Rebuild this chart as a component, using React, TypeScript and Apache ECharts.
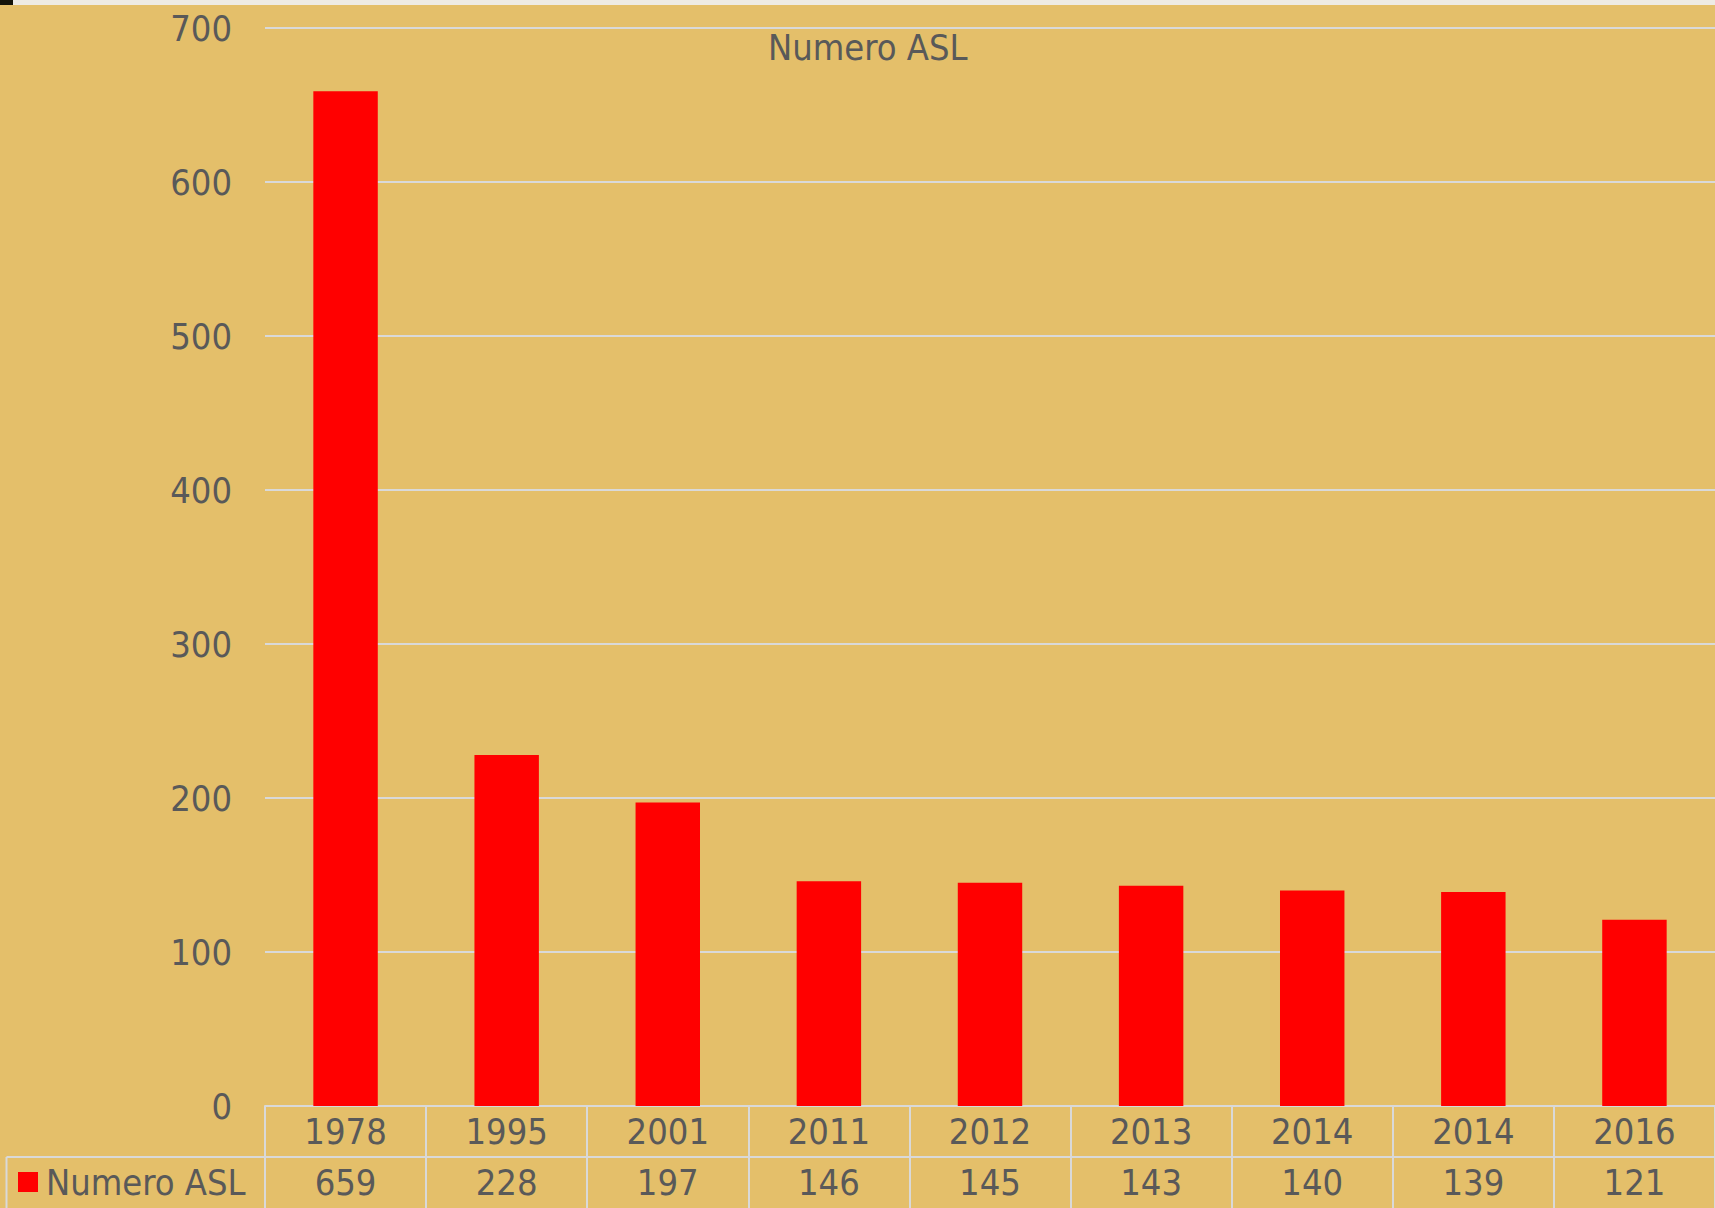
import React, { useEffect, useRef } from "react";
import * as echarts from "echarts";

const categories = ["1978", "1995", "2001", "2011", "2012", "2013", "2014", "2014", "2016"];
const values = [659, 228, 197, 146, 145, 143, 140, 139, 121];
const seriesName = "Numero ASL";
const yTicks = { min: 0, max: 700, interval: 100 };

const FONT = "'DejaVu Sans Condensed', 'Liberation Sans Narrow', 'DejaVu Sans', sans-serif";
const TEXT = "#595959";
const LINE = "#D9D9D9";
const BG = "#E4BF6A";

export default function App() {
  const ref = useRef<HTMLDivElement>(null);
  useEffect(() => {
    document.body.style.margin = "0";
    const chart = echarts.init(ref.current!, null, { renderer: "svg" });
    chart.setOption({
      animation: false,
      backgroundColor: BG,
      textStyle: { fontFamily: FONT },
      title: {
        text: seriesName,
        left: 763,
        top: 24,
        textStyle: { fontFamily: FONT, fontSize: 36, fontWeight: "normal", color: TEXT },
      },
      legend: {
        data: [seriesName],
        left: 13,
        top: 1159,
        icon: "rect",
        itemWidth: 20,
        itemHeight: 20,
        textStyle: { fontFamily: FONT, fontSize: 36, color: TEXT, padding: [0, 0, 0, 3] },
      },
      grid: { left: 265, right: -1, top: 28, bottom: 102, containLabel: false },
      xAxis: [
        {
          type: "category",
          data: categories,
          position: "bottom",
          axisLine: { show: true, lineStyle: { color: LINE, width: 2 } },
          axisTick: { show: true, length: 102, interval: 0, lineStyle: { color: LINE, width: 2 } },
          axisLabel: { interval: 0, fontFamily: FONT, fontSize: 36, color: TEXT, margin: 7 },
        },
        {
          type: "category",
          data: values.map(String),
          position: "bottom",
          offset: 51,
          axisLine: { show: true, lineStyle: { color: LINE, width: 2 } },
          axisTick: { show: false },
          axisLabel: { interval: 0, fontFamily: FONT, fontSize: 36, color: TEXT, margin: 7 },
        },
      ],
      yAxis: {
        type: "value",
        min: yTicks.min,
        max: yTicks.max,
        interval: yTicks.interval,
        axisLine: { show: false },
        axisTick: { show: false },
        splitLine: { show: true, lineStyle: { color: LINE, width: 2 } },
        axisLabel: { fontFamily: FONT, fontSize: 36, color: TEXT, margin: 33 },
      },
      series: [
        {
          name: seriesName,
          type: "bar",
          data: values,
          xAxisIndex: 0,
          barWidth: "40%",
          itemStyle: { color: "#FF0000" },
        },
      ],
      graphic: [
        { type: "rect", shape: { x: 0, y: 0, width: 1715, height: 5 }, style: { fill: "#EEEBE4" } },
        { type: "rect", shape: { x: 0, y: 0, width: 13, height: 5 }, style: { fill: "#14140A" } },
        { type: "line", shape: { x1: 6.5, y1: 1157, x2: 266, y2: 1157 }, style: { stroke: LINE, lineWidth: 2 } },
        { type: "line", shape: { x1: 6.5, y1: 1157, x2: 6.5, y2: 1208 }, style: { stroke: LINE, lineWidth: 2 } },
      ],
    });
    return () => chart.dispose();
  }, []);
  return <div ref={ref} style={{ width: 1715, height: 1208 }} />;
}
